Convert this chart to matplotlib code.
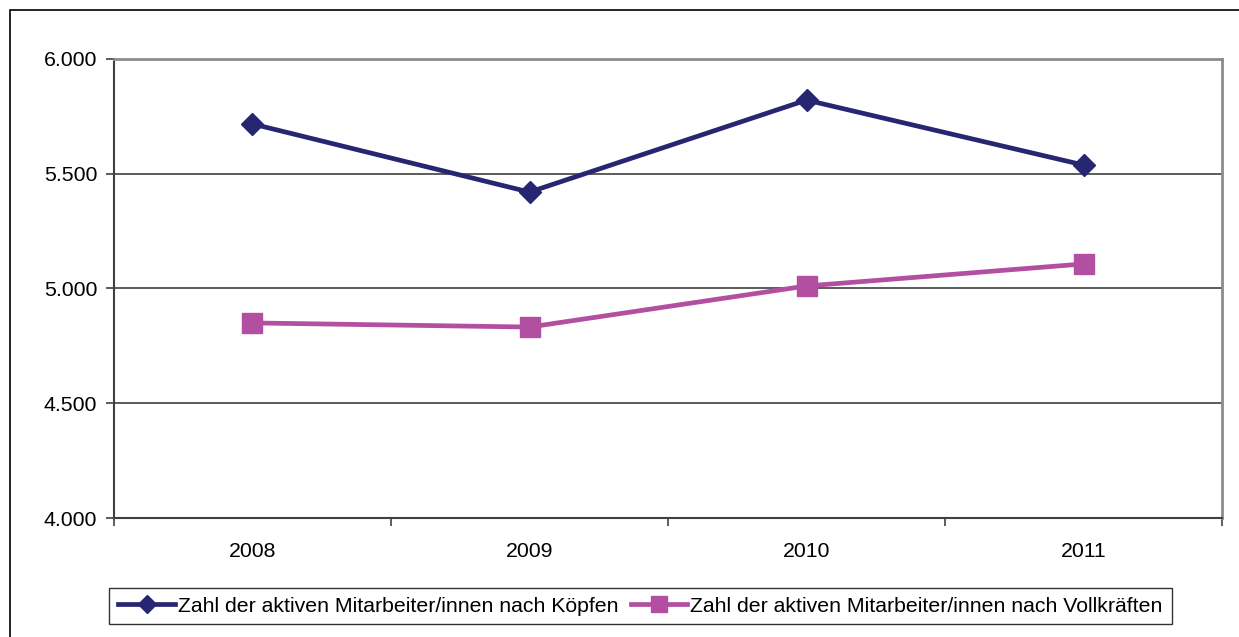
import matplotlib.pyplot as plt
from matplotlib.patches import Rectangle
from matplotlib.ticker import FuncFormatter

plt.rcParams['font.family'] = ['Liberation Sans', 'DejaVu Sans']

jahre = ['2008', '2009', '2010', '2011']
koepfe = [5717, 5420, 5821, 5538]
vollkraefte = [4850, 4832, 5011, 5107]
label_koepfe = 'Zahl der aktiven Mitarbeiter/innen nach Köpfen'
label_voll = 'Zahl der aktiven Mitarbeiter/innen nach Vollkräften'

fig = plt.figure(figsize=(12.39, 6.37), dpi=100)
ax = fig.add_axes([0.092, 0.1868, 0.8943, 0.7206])

# aeusserer Rahmen
fig.patches.append(Rectangle((10 / 1239, -0.1), 1.2, 1 - 10 / 637 + 0.1,
                             transform=fig.transFigure, fill=False,
                             edgecolor='black', linewidth=1.2))

x = range(len(jahre))
ax.plot(x, koepfe, color='#262672', lw=3.4, marker='D', ms=11.5,
        label=label_koepfe, zorder=3)
ax.plot(x, vollkraefte, color='#B34FA0', lw=3.4, marker='s', ms=15,
        label=label_voll, zorder=3)

ax.set_xlim(-0.5, len(jahre) - 0.5)
ax.set_ylim(4000, 6000)
ax.set_yticks([4000, 4500, 5000, 5500, 6000])
ax.yaxis.set_major_formatter(FuncFormatter(lambda v, p: f'{int(v):,}'.replace(',', '.')))
ax.set_xticks(list(x))
ax.set_xticklabels(jahre)
ax.set_xticks([i - 0.5 for i in range(len(jahre) + 1)], minor=True)
ax.tick_params(axis='x', which='major', length=0, pad=17, labelsize=15.3)
ax.tick_params(axis='x', which='minor', length=6, direction='out', width=1.2, color='#404040')
ax.tick_params(axis='y', length=6, direction='out', width=1.2, color='#404040',
               labelsize=15.3, pad=6)

ax.grid(axis='y', color='#404040', lw=1.2)
ax.set_axisbelow(True)
for s in ['left', 'bottom']:
    ax.spines[s].set_color('#404040')
    ax.spines[s].set_linewidth(1.5)
for s in ['top', 'right']:
    ax.spines[s].set_color('#8c8c8c')
    ax.spines[s].set_linewidth(2)

leg = fig.legend(loc='center', bbox_to_anchor=(640.5 / 1239, 1 - 606 / 637), ncol=2,
                 fontsize=15.3, frameon=True, fancybox=False, edgecolor='black',
                 handlelength=2.68, handletextpad=0.14, columnspacing=0.56,
                 borderpad=0.42, borderaxespad=0, markerscale=0.8)
leg.get_frame().set_linewidth(1)

fig.savefig('out.png', dpi=100)
